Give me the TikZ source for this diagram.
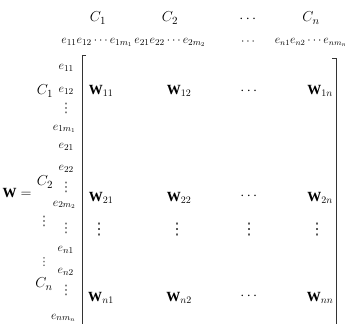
\documentclass[tikz,border=0pt]{standalone}
\usepackage{amsmath,amssymb}
\usepackage{fontspec}
\setmainfont{Liberation Serif}
\newfontfamily\dvfont{DejaVu Sans}
\begin{document}
\begin{tikzpicture}[x=1pt,y=-1pt,
  hdr/.style={font=\fontsize{15}{15}\selectfont, inner sep=0pt},
  seq/.style={font=\fontsize{12.5}{12.5}\selectfont, inner sep=0pt},
  rlab/.style={font=\fontsize{13}{13}\selectfont, inner sep=0pt, anchor=east},
  vd/.style={font=\dvfont\fontsize{13}{13}\selectfont, inner sep=0pt, text=black!75},
  vdb/.style={font=\dvfont\fontsize{16}{16}\selectfont, inner sep=0pt, text=black!80},
  ent/.style={font=\fontsize{14}{14}\selectfont, inner sep=0pt},
  brk/.style={line width=1pt, black!80}]
\useasboundingbox (0,0) rectangle (345,324);
% column headers
\node[hdr] (h1) at (98,18) {$C_1$};
\node[hdr] (h2) at (170,18) {$C_2$};
\node[hdr] (h3) at (249,19) {$\cdots$};
\node[hdr] (h4) at (311,18) {$C_n$};
\node[seq] (s1) at (97,42) {$e_{11}e_{12}\cdots e_{1m_1}$};
\node[seq] (s2) at (170,42) {$e_{21}e_{22}\cdots e_{2m_2}$};
\node[seq] (s3) at (249,42) {$\cdots$};
\node[seq, font=\fontsize{11.5}{11.5}\selectfont] (s4) at (311,42) {$e_{n1}e_{n2}\cdots e_{nm_n}$};
% row labels
\node[rlab] (r1) at (74,68) {$e_{11}$};
\node[rlab] (r2) at (74,91) {$e_{12}$};
\node[vd] (r3) at (66,108) {⋮};
\node[rlab] (r4) at (76,129) {$e_{1m_1}$};
\node[rlab] (r5) at (74,147) {$e_{21}$};
\node[rlab] (r6) at (74,169) {$e_{22}$};
\node[vd] (r7) at (66,187) {⋮};
\node[rlab] (r8) at (76,205) {$e_{2m_2}$};
\node[vd] (r9) at (66,228) {⋮};
\node[rlab] (r10) at (74,250) {$e_{n1}$};
\node[rlab] (r11) at (74,272) {$e_{n2}$};
\node[vd] (r12) at (66,290) {⋮};
\node[rlab] (r13) at (76,318) {$e_{nm_n}$};
% group labels
\node[hdr] (g1) at (45,91) {$C_1$};
\node[hdr] (g2) at (45,182) {$C_2$};
\node[vd] (g3) at (44,221) {⋮};
\node[vd, font=\dvfont\fontsize{11}{11}\selectfont] (g4) at (44,262) {⋮};
\node[hdr] (g5) at (44,284) {$C_n$};
\node[font=\fontsize{14}{14}\selectfont, inner sep=0pt] (wl) at (17,193) {$\mathbf{W}=$};
% brackets
\draw[brk] (86,55) -- (82,55) -- (82,324);
\draw[brk] (332,58) -- (336,58) -- (336,324);
% entries
\node[ent] (w11) at (101,91) {$\mathbf{W}_{11}$};
\node[ent] (w12) at (179,91) {$\mathbf{W}_{12}$};
\node[ent] (w13) at (250,91) {$\cdots$};
\node[ent] (w14) at (320,91) {$\mathbf{W}_{1n}$};
\node[ent] (w21) at (101,198) {$\mathbf{W}_{21}$};
\node[ent] (w22) at (179,198) {$\mathbf{W}_{22}$};
\node[ent] (w23) at (250,196) {$\cdots$};
\node[ent] (w24) at (320,198) {$\mathbf{W}_{2n}$};
\node[vdb] (w31) at (99,230) {⋮};
\node[vdb] (w32) at (177,230) {⋮};
\node[vdb] (w33) at (249,230) {⋮};
\node[vdb] (w34) at (317,230) {⋮};
\node[ent] (w41) at (101,298) {$\mathbf{W}_{n1}$};
\node[ent] (w42) at (179,298) {$\mathbf{W}_{n2}$};
\node[ent] (w43) at (250,296) {$\cdots$};
\node[ent] (w44) at (320,298) {$\mathbf{W}_{nn}$};
\end{tikzpicture}
\end{document}
